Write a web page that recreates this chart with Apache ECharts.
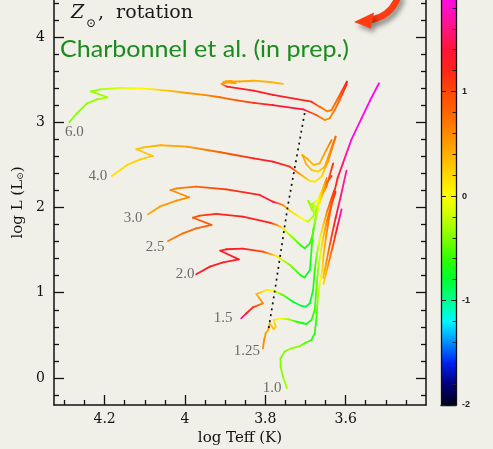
<!DOCTYPE html>
<html>
<head>
<meta charset="utf-8">
<script src="https://cdn.jsdelivr.net/npm/echarts@6/dist/echarts.min.js"></script>
<style>
  html, body { margin: 0; padding: 0; background: #f1f0e8; }
  #chart { width: 493px; height: 449px; }
</style>
</head>
<body>
<div id="chart"></div>
<script>
// Evolutionary tracks: each point is [log Teff, log L, colour-scale value]
const track60 = [
  [4.288,3.000,-0.4],[4.269,3.105,-0.4],[4.244,3.222,-0.35],[4.219,3.269,-0.35],[4.193,3.293,-0.3],
  [4.234,3.363,-0.35],[4.211,3.386,-0.3],[4.161,3.402,-0.15],[4.111,3.398,0.0],[4.078,3.386,0.15],
  [4.036,3.367,0.35],[3.995,3.343,0.5],[3.953,3.320,0.6],[3.912,3.293,0.75],[3.870,3.257,0.9],
  [3.829,3.226,1.1],[3.781,3.202,1.35],[3.706,3.152,1.45],[3.673,3.085,0.9],[3.652,3.026,0.6],
  [3.640,3.046,0.6],[3.627,3.144,0.7],[3.615,3.261,0.9],[3.598,3.437,1.2],[3.597,3.476,1.25],
  [3.619,3.281,0.85],[3.635,3.144,0.7],[3.646,3.128,0.65],[3.665,3.183,0.8],[3.685,3.241,1.2],
  [3.781,3.320,1.3],[3.829,3.370,1.3],[3.895,3.417,1.25],[3.909,3.449,0.5],[3.884,3.484,0.5],
  [3.904,3.472,0.5],[3.874,3.460,0.5],[3.899,3.478,0.45],[3.864,3.478,0.45],[3.829,3.487,0.4],
  [3.789,3.472,0.4],[3.756,3.449,0.35]
];
const track40 = [
  [4.182,2.370,0.15],[4.144,2.499,0.2],[4.111,2.565,0.25],[4.080,2.604,0.3],[4.121,2.683,0.3],
  [4.103,2.706,0.35],[4.061,2.730,0.4],[3.995,2.713,0.5],[3.912,2.648,0.8],[3.829,2.577,1.2],
  [3.781,2.537,1.35],[3.739,2.479,1.1],[3.714,2.393,0.5],[3.689,2.311,0.15],[3.677,2.303,0.1],
  [3.660,2.361,0.2],[3.644,2.537,0.5],[3.625,2.831,0.8],[3.652,2.479,0.4],[3.669,2.420,0.2],
  [3.685,2.440,0.3],[3.698,2.507,0.4],[3.708,2.616,0.45],[3.694,2.565,0.4],[3.680,2.499,0.35],
  [3.665,2.518,0.4],[3.648,2.675,0.55],[3.635,2.792,0.7]
];
const track30 = [
  [4.092,1.920,0.45],[4.063,2.009,0.5],[4.021,2.080,0.55],[3.990,2.120,0.6],[4.036,2.205,0.6],
  [4.021,2.225,0.65],[3.972,2.244,0.8],[3.897,2.213,1.1],[3.814,2.147,1.3],[3.781,2.068,1.4],
  [3.756,2.029,0.6],[3.739,1.963,0.2],[3.706,1.862,0.0],[3.694,1.833,-0.2],[3.681,1.892,-0.3],
  [3.671,2.009,-0.3],[3.660,2.167,0.0],[3.650,2.299,0.4],[3.669,2.088,0.0],[3.687,2.029,-0.3],
  [3.693,2.076,-0.35],[3.684,1.971,-0.3],[3.677,1.935,-0.25],[3.684,2.041,-0.3],[3.669,1.994,-0.1],
  [3.660,2.135,0.3],[3.648,2.244,0.7],[3.640,2.370,1.0],[3.631,2.518,1.2]
];
const track25 = [
  [4.042,1.607,0.7],[4.005,1.697,0.75],[3.972,1.756,0.8],[3.934,1.795,0.85],[3.980,1.880,0.9],
  [3.963,1.904,1.0],[3.922,1.924,1.2],[3.856,1.892,1.3],[3.789,1.822,1.2],[3.772,1.797,0.6],
  [3.756,1.756,0.1],[3.739,1.677,-0.3],[3.710,1.548,-0.6],[3.702,1.521,-0.7],[3.689,1.580,-0.65],
  [3.681,1.697,-0.6],[3.673,1.932,-0.4],[3.665,2.088,-0.1],[3.656,2.229,0.3],[3.647,2.346,0.7]
];
const track20 = [
  [3.972,1.216,1.3],[3.938,1.306,1.3],[3.905,1.357,1.3],[3.866,1.392,1.3],[3.912,1.493,1.3],
  [3.897,1.510,1.3],[3.856,1.517,1.3],[3.806,1.482,1.0],[3.772,1.431,0.1],[3.739,1.326,-0.4],
  [3.710,1.196,-0.7],[3.702,1.181,-0.75],[3.689,1.267,-0.75],[3.685,1.501,-0.65],[3.681,1.736,-0.5],
  [3.674,1.877,-0.3],[3.666,2.029,0.0],[3.657,2.170,0.4],[3.646,2.299,0.8],[3.635,2.370,1.2]
];
const track15 = [
  [3.860,0.700,1.7],[3.847,0.759,1.4],[3.831,0.829,1.1],[3.806,0.876,0.6],[3.822,0.985,0.4],
  [3.797,1.032,0.1],[3.781,1.024,0.0],[3.756,0.974,-0.5],[3.731,0.895,-0.8],[3.710,0.845,-0.85],
  [3.699,0.836,-0.85],[3.689,0.876,-0.8],[3.681,1.032,-0.7],[3.677,1.267,-0.6],[3.672,1.443,-0.4],
  [3.665,1.619,-0.1],[3.655,1.806,0.3],[3.645,1.971,0.7],[3.635,2.111,1.0],[3.628,2.205,1.3]
];
const track125 = [
  [3.806,0.348,0.6],[3.803,0.446,0.6],[3.799,0.524,0.5],[3.793,0.563,0.45],[3.789,0.642,0.4],
  [3.779,0.571,0.3],[3.774,0.602,0.25],[3.779,0.680,0.15],[3.764,0.696,0.0],[3.743,0.689,-0.3],
  [3.723,0.660,-0.6],[3.706,0.642,-0.7],[3.698,0.633,-0.7],[3.685,0.680,-0.65],[3.677,0.798,-0.6],
  [3.673,1.032,-0.5],[3.669,1.267,-0.35],[3.663,1.443,-0.1],[3.656,1.642,0.3],[3.646,1.853,0.7],
  [3.635,2.041,1.0],[3.625,2.182,1.2]
];
const track10 = [
  [3.746,-0.121,-0.3],[3.756,0.015,-0.35],[3.762,0.133,-0.4],[3.762,0.231,-0.4],[3.752,0.309,-0.4],
  [3.735,0.348,-0.35],[3.714,0.375,-0.4],[3.702,0.407,-0.5],[3.685,0.446,-0.6],[3.677,0.524,-0.65],
  [3.673,0.680,-0.6],[3.669,0.954,-0.3],[3.663,1.150,0.0],[3.658,1.267,0.2],[3.655,1.443,0.35],
  [3.648,1.677,0.55],[3.640,1.912,0.8],[3.630,2.147,1.05],[3.620,2.346,1.3],[3.607,2.518,1.6],
  [3.586,2.792,1.9],[3.560,3.050,1.95],[3.540,3.249,2.0],[3.517,3.457,2.0]
];
// Second-ascent giant-branch segments on the cool side of the bundle
const agbA = [[3.656,1.173,0.3],[3.647,1.384,0.6],[3.637,1.619,1.0],[3.625,1.877,1.3],[3.612,2.135,1.6],[3.598,2.432,1.75]];
const agbB = [[3.655,1.103,0.2],[3.645,1.302,0.5],[3.633,1.525,0.9],[3.622,1.748,1.4],[3.610,1.979,1.85]];

// Dotted locus across the tracks
const dottedLocus = [[3.702,3.108],[3.744,2.018],[3.774,1.091],[3.793,0.543]];

const massLabels = ['6.0','4.0','3.0','2.5','2.0','1.5','1.25','1.0'];
const labelledTracks = [track60, track40, track30, track25, track20, track15, track125, track10];
const otherBranches = [agbA, agbB];

// Axis ticks
const teffMajor = [4.2, 4.0, 3.8, 3.6];
const teffMinor = [4.3, 4.25, 4.15, 4.1, 4.05, 3.95, 3.9, 3.85, 3.75, 3.7, 3.65, 3.55, 3.5, 3.45];
const lumMajor = [0, 1, 2, 3, 4];
const lumMinor = [-0.2,0.2,0.4,0.6,0.8,1.2,1.4,1.6,1.8,2.2,2.4,2.6,2.8,3.2,3.4,3.6,3.8,4.2,4.4];
const cbMajor = [-2, -1, 0, 1];
const cbMinor = [-1.8,-1.6,-1.4,-1.2,-0.8,-0.6,-0.4,-0.2,0.2,0.4,0.6,0.8,1.2,1.4,1.6,1.8];

// Axis extents (the upper ends are the values at the top edge of the page)
const xMin = 3.4, xMax = 4.326;
const yMin = -0.317, yMax = 4.434;
const cbMin = -2, cbMax = 2, cbTop = 1.876;

// Colour scale, evenly spaced from cbMin to cbMax
const colorScale = ['#00001a','#00007a','#0020f0','#0090ff','#00f8ff','#00ff90','#00ff30','#30ff00',
  '#80ff00','#c8ff00','#ffff00','#ffd800','#ffb000','#ff8a00','#ff6400','#ff4808','#ff2418',
  '#ff1438','#ff1480','#ff10c8','#ff00ff'];

function colorAt(v) {
  const t = Math.min(1, Math.max(0, (v - cbMin) / (cbMax - cbMin)));
  return echarts.color.lerp(t, colorScale);
}

function segmentsOf(track) {
  const out = [];
  for (let i = 0; i < track.length - 1; i++) {
    const a = track[i], b = track[i + 1];
    out.push([a[0], a[1], b[0], b[1], a[2], b[2]]);
  }
  return out;
}

function renderSegment(params, api) {
  const p1 = api.coord([api.value(0), api.value(1)]);
  const p2 = api.coord([api.value(2), api.value(3)]);
  const c1 = colorAt(api.value(4));
  const c2 = colorAt(api.value(5));
  return {
    type: 'line',
    shape: { x1: p1[0], y1: p1[1], x2: p2[0], y2: p2[1] },
    style: {
      stroke: new echarts.graphic.LinearGradient(p1[0], p1[1], p2[0], p2[1],
        [{ offset: 0, color: c1 }, { offset: 1, color: c2 }], true),
      lineWidth: 1.8,
      lineCap: 'round'
    }
  };
}

const ink = '#111';
const serif = 'DejaVu Serif';

function trackSeries(track) {
  return {
    type: 'custom', xAxisIndex: 0, yAxisIndex: 0,
    renderItem: renderSegment,
    data: segmentsOf(track),
    encode: { x: [0, 2], y: [1, 3] },
    silent: true, z: 3
  };
}

// Label offsets (pixels) from each track's first point
const labelOffsets = [[5, 10], [-14, 0], [-15, 4], [-13, 6], [-11, 0], [-18, 0], [-16, 3], [-15, 0]];

const series = [];
labelledTracks.concat(otherBranches).forEach(t => series.push(trackSeries(t)));

series.push({
  type: 'line', xAxisIndex: 0, yAxisIndex: 0,
  data: dottedLocus, symbol: 'none', silent: true, z: 5,
  lineStyle: { color: ink, width: 1.7, type: [2, 4] }
});

series.push({
  type: 'scatter', xAxisIndex: 0, yAxisIndex: 0, silent: true, z: 6,
  symbolSize: 1, itemStyle: { color: 'rgba(0,0,0,0)' },
  data: labelledTracks.map((t, i) => ({
    value: [t[0][0], t[0][1]],
    label: { offset: labelOffsets[i] }
  })),
  label: {
    show: true, position: 'inside',
    formatter: p => massLabels[p.dataIndex],
    fontFamily: 'Liberation Serif', fontSize: 15, color: '#4a4a4a'
  }
});

const cbSeriesIndex = series.length;
series.push({
  type: 'line', xAxisIndex: 2, yAxisIndex: 4,
  data: [[0.5, cbMin], [0.5, cbTop]],
  symbol: 'none', silent: true, z: 1,
  lineStyle: { width: 15, cap: 'butt' }
});

const titleInk = '#1a1a1a';

const option = {
  backgroundColor: '#f1f0e8',
  animation: false,
  grid: [
    { left: 54, right: 67, top: 0, bottom: 44, outerBoundsMode: 'none' },
    { left: 441, width: 15, top: 0, bottom: 44, outerBoundsMode: 'none' }
  ],
  xAxis: [
    {
      gridIndex: 0, type: 'value', inverse: true, min: xMin, max: xMax, position: 'bottom',
      axisLine: { show: true, onZero: false, lineStyle: { color: ink, width: 1.5 } },
      axisTick: { show: true, inside: true, length: 10, customValues: teffMajor, lineStyle: { color: ink, width: 1.3 } },
      axisLabel: { customValues: teffMajor, margin: 7, fontFamily: serif, fontSize: 14, color: ink },
      splitLine: { show: false },
      name: 'log Teff (K)', nameLocation: 'middle', nameGap: 25,
      nameTextStyle: { fontFamily: serif, fontSize: 15, color: ink }
    },
    {
      gridIndex: 0, type: 'value', inverse: true, min: xMin, max: xMax, position: 'bottom',
      axisLine: { show: false, onZero: false },
      axisTick: { show: true, inside: true, length: 5, customValues: teffMinor, lineStyle: { color: ink, width: 1.3 } },
      axisLabel: { show: false }, splitLine: { show: false }
    },
    {
      gridIndex: 1, type: 'value', min: 0, max: 1, position: 'bottom', z: 10,
      axisLine: { show: true, onZero: false, lineStyle: { color: ink, width: 1.3 } },
      axisTick: { show: false }, axisLabel: { show: false }, splitLine: { show: false }
    }
  ],
  yAxis: [
    {
      gridIndex: 0, type: 'value', min: yMin, max: yMax, position: 'left',
      axisLine: { show: true, onZero: false, lineStyle: { color: ink, width: 1.5 } },
      axisTick: { show: true, inside: true, length: 10, customValues: lumMajor, lineStyle: { color: ink, width: 1.3 } },
      axisLabel: { customValues: lumMajor, margin: 9, fontFamily: serif, fontSize: 14, color: ink },
      splitLine: { show: false },
      name: '{a|log L (L}{s|⊙}{a|)}', nameLocation: 'middle', nameGap: 25, nameRotate: 90,
      nameTextStyle: {
        rich: {
          a: { fontFamily: serif, fontSize: 15, color: ink },
          s: { fontFamily: serif, fontSize: 9, color: ink, verticalAlign: 'bottom' }
        }
      }
    },
    {
      gridIndex: 0, type: 'value', min: yMin, max: yMax, position: 'left',
      axisLine: { show: false, onZero: false },
      axisTick: { show: true, inside: true, length: 5, customValues: lumMinor, lineStyle: { color: ink, width: 1.3 } },
      axisLabel: { show: false }, splitLine: { show: false }
    },
    {
      gridIndex: 0, type: 'value', min: yMin, max: yMax, position: 'right',
      axisLine: { show: true, onZero: false, lineStyle: { color: ink, width: 1.5 } },
      axisTick: { show: true, inside: true, length: 10, customValues: lumMajor, lineStyle: { color: ink, width: 1.3 } },
      axisLabel: { show: false }, splitLine: { show: false }
    },
    {
      gridIndex: 0, type: 'value', min: yMin, max: yMax, position: 'right',
      axisLine: { show: false, onZero: false },
      axisTick: { show: true, inside: true, length: 5, customValues: lumMinor, lineStyle: { color: ink, width: 1.3 } },
      axisLabel: { show: false }, splitLine: { show: false }
    },
    {
      gridIndex: 1, type: 'value', min: cbMin, max: cbTop, position: 'left', z: 10,
      axisLine: { show: true, onZero: false, lineStyle: { color: ink, width: 1.3 } },
      axisTick: { show: true, inside: true, length: 5, customValues: cbMajor, lineStyle: { color: '#222', width: 1 } },
      axisLabel: { show: false }, splitLine: { show: false }
    },
    {
      gridIndex: 1, type: 'value', min: cbMin, max: cbTop, position: 'right', z: 10,
      axisLine: { show: true, onZero: false, lineStyle: { color: ink, width: 1.3 } },
      axisTick: { show: true, inside: true, length: 5, customValues: cbMajor, lineStyle: { color: '#222', width: 1 } },
      axisLabel: { customValues: cbMajor, margin: 6, fontFamily: 'Liberation Sans', fontWeight: 'bold', fontSize: 9, color: '#222' },
      splitLine: { show: false }
    },
    {
      gridIndex: 1, type: 'value', min: cbMin, max: cbTop, position: 'right', z: 10,
      axisLine: { show: false, onZero: false },
      axisTick: { show: true, inside: true, length: 3.5, customValues: cbMinor, lineStyle: { color: '#222', width: 1 } },
      axisLabel: { show: false }, splitLine: { show: false }
    }
  ],
  visualMap: [{
    type: 'continuous', show: false, min: cbMin, max: cbMax, dimension: 1,
    seriesIndex: cbSeriesIndex, inRange: { color: colorScale }
  }],
  graphic: [
    {
      type: 'text', x: 71, y: 13.5, silent: true,
      style: { text: 'Z', fontFamily: serif, fontStyle: 'italic', fontSize: 19, fill: titleInk, verticalAlign: 'middle' }
    },
    {
      type: 'text', x: 86, y: 24, silent: true,
      style: { text: '⊙', fontFamily: serif, fontSize: 12, fill: titleInk, verticalAlign: 'middle' }
    },
    {
      type: 'text', x: 98, y: 13.5, silent: true,
      style: { text: ',  rotation', fontFamily: serif, fontSize: 19, fill: titleInk, verticalAlign: 'middle' }
    },
    {
      type: 'text', x: 60, y: 50, scaleX: 1.09, silent: true,
      style: { text: 'Charbonnel et al. (in prep.)', fill: '#1b8a1f', fontFamily: 'Lato', fontSize: 23, verticalAlign: 'middle' }
    },
    {
      type: 'bezierCurve', silent: true,
      shape: { x1: 371, y1: 20, cpx1: 385, cpy1: 17, cpx2: 395, cpy2: 8, x2: 399, y2: -6 },
      style: { stroke: '#ff3c14', lineWidth: 6.5, fill: 'none',
        shadowBlur: 5, shadowColor: 'rgba(0,0,0,0.4)', shadowOffsetX: 3, shadowOffsetY: 4 }
    },
    {
      type: 'polygon', silent: true,
      shape: { points: [[354, 22], [374, 12.5], [371, 28.5]] },
      style: { fill: '#ff3c14',
        shadowBlur: 5, shadowColor: 'rgba(0,0,0,0.4)', shadowOffsetX: 3, shadowOffsetY: 4 }
    }
  ],
  series: series
};

const chart = echarts.init(document.getElementById('chart'), null, { renderer: 'canvas' });
chart.setOption(option);
</script>
</body>
</html>
